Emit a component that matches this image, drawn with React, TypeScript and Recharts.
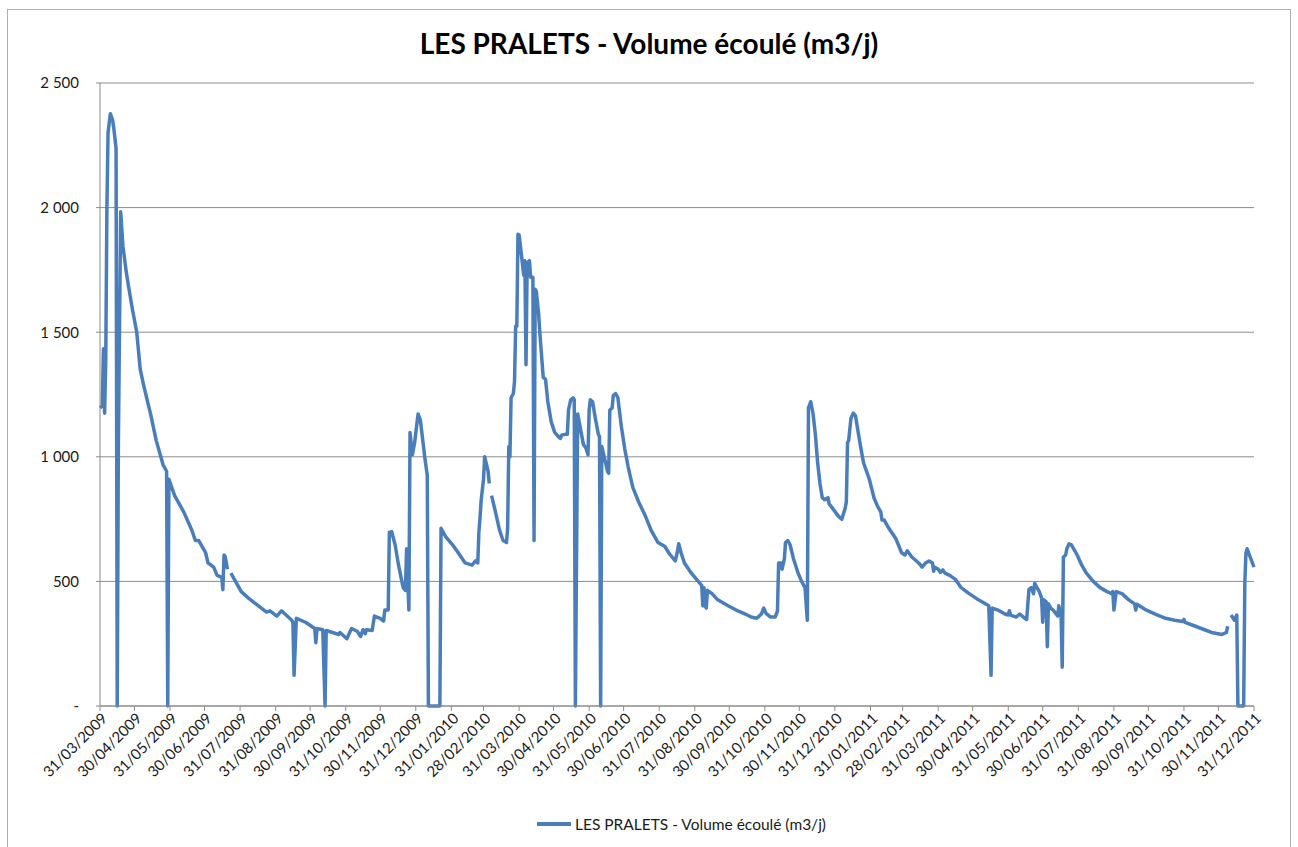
import { CartesianGrid, Line, LineChart, XAxis, YAxis } from 'recharts'

// jours depuis le 31/03/2009
const jours = [
  0, 2, 3, 4, 5, 6, 7, 9, 11, 12,
  14, 15, 16, 18, 20, 23, 25, 28, 32, 35,
  38, 44, 49, 55, 58, 59, 60, 65, 73, 80,
  83, 86, 92, 94, 99, 102, 106, 107, 108, 109,
  111, 112, 114, 118, 123, 129, 138, 145, 148, 154,
  158, 163, 167, 168, 169, 171, 179, 187, 188, 189,
  194, 196, 197, 208, 209, 215, 219, 224, 227, 229,
  231, 232, 237, 239, 244, 247, 248, 251, 252, 254,
  257, 260, 264, 266, 267, 269, 270, 272, 274, 277,
  279, 283, 285, 286, 296, 297, 301, 307, 312, 318,
  324, 327, 329, 330, 331, 332, 334, 335, 338, 339,
  340, 341, 344, 348, 351, 354, 355, 356, 357, 358,
  360, 361, 362, 363, 364, 365, 367, 369, 370, 371,
  372, 374, 375, 377, 378, 379, 380, 382, 383, 386,
  388, 390, 393, 396, 399, 401, 402, 405, 407, 408,
  410, 412, 413, 414, 416, 418, 421, 423, 425, 426,
  427, 429, 431, 434, 435, 436, 437, 440, 442, 443,
  444, 446, 447, 449, 451, 454, 457, 460, 464, 469,
  475, 480, 486, 492, 496, 501, 503, 504, 506, 509,
  515, 521, 524, 525, 526, 527, 528, 529, 533, 538,
  547, 554, 562, 567, 572, 576, 578, 580, 584, 588,
  590, 591, 593, 594, 596, 597, 599, 601, 604, 608,
  611, 614, 616, 617, 619, 621, 623, 625, 627, 629,
  631, 634, 635, 639, 643, 646, 649, 650, 651, 652,
  654, 656, 658, 660, 663, 665, 670, 674, 677, 680,
  681, 683, 687, 693, 696, 698, 701, 703, 707, 713,
  716, 719, 722, 725, 726, 727, 730, 732, 734, 736,
  740, 745, 750, 756, 765, 771, 774, 776, 777, 782,
  788, 791, 792, 793, 798, 801, 804, 807, 809, 811,
  813, 814, 816, 818, 820, 821, 822, 824, 825, 826,
  828, 830, 834, 835, 837, 838, 839, 841, 842, 844,
  846, 851, 855, 859, 865, 871, 877, 881, 882, 883,
  885, 890, 896, 901, 902, 903, 910, 919, 928, 936,
  943, 944, 945, 954, 962, 968, 977, 981, 982, 983,
  985, 988, 990, 991, 996, 997, 998, 999, 1001, 1005,
]

// volume écoulé (m3/j), null = pas de mesure
const volumes = [
  1196, 1205, 1434, 1175, 1385, 1991, 2300, 2377, 2350, 2319,
  2237, 0, 1049, 1983, 1844, 1737, 1680, 1598, 1500, 1352,
  1287, 1172, 1065, 967, 942, 0, 910, 844, 778, 705,
  664, 664, 615, 574, 557, 524, 516, 467, 606, 600,
  549, null, 533, 500, 459, 434, 402, 377, 382, 361,
  382, 361, 344, 336, 123, 352, 336, 311, 254, 311,
  306, 0, 303, 287, 295, 270, 311, 300, 279, 306,
  290, 306, 303, 361, 352, 341, 385, 385, 697, 700,
  647, 565, 475, 464, 631, 385, 1098, 1008, 1057, 1172,
  1147, 992, 926, 0, 0, 713, 680, 647, 615, 574,
  565, 582, 574, 700, 760, 828, 910, 1000, 942, 893,
  null, 844, 787, 705, 664, 656, 713, 1041, 1000, 1237,
  1254, 1303, 1524, 1524, 1893, 1890, 1811, 1729, 1787, 1369,
  1778, 1787, 1721, 1721, 664, 1672, 1664, 1573, 1500, 1319,
  1311, 1221, 1139, 1098, 1082, 1074, 1087, 1090, 1090, 1188,
  1229, 1237, 1229, 0, 1172, 1123, 1049, 1037, 1008, 1188,
  1229, 1221, 1164, 1090, 1082, 0, 1041, 983, 942, 934,
  1188, 1196, 1246, 1254, 1237, 1123, 1032, 959, 877, 820,
  762, 705, 656, 640, 610, 582, 623, 651, 615, 574,
  533, 500, 484, 402, 475, 402, 393, 464, 451, 426,
  402, 385, 369, 357, 352, 369, 393, 372, 357, 357,
  382, 574, 574, 549, 590, 656, 664, 647, 590, 533,
  500, 475, 344, 1196, 1221, 1172, 1090, 975, 893, 836,
  828, 836, 811, 787, 762, 749, 795, 820, 1057, 1065,
  1155, 1175, 1164, 1106, 1024, 975, 910, 836, 803, 778,
  746, 746, 713, 672, 639, 615, 606, 623, 598, 574,
  557, 574, 582, 574, 541, 557, 549, 536, 546, 533,
  524, 508, 475, 454, 426, 410, 402, 123, 393, 385,
  369, 365, 382, 365, 357, 369, 357, 347, 467, 475,
  451, 492, 475, 459, 434, 336, 426, 418, 238, 410,
  393, 385, 361, 402, 361, 156, 598, 606, 631, 651,
  647, 606, 565, 533, 500, 475, 459, 451, 459, 385,
  459, 451, 426, 410, 385, 408, 388, 369, 352, 344,
  339, 348, 336, 320, 306, 295, 287, 295, 320, null,
  365, 344, 365, 0, 0, 492, 615, 631, 606, 557,
]

const dateTicks = [
  '31/03/2009', '30/04/2009', '31/05/2009', '30/06/2009', '31/07/2009',
  '31/08/2009', '30/09/2009', '31/10/2009', '30/11/2009', '31/12/2009',
  '31/01/2010', '28/02/2010', '31/03/2010', '30/04/2010', '31/05/2010',
  '30/06/2010', '31/07/2010', '31/08/2010', '30/09/2010', '31/10/2010',
  '30/11/2010', '31/12/2010', '31/01/2011', '28/02/2011', '31/03/2011',
  '30/04/2011', '31/05/2011', '30/06/2011', '31/07/2011', '31/08/2011',
  '30/09/2011', '31/10/2011', '30/11/2011', '31/12/2011',
]

const valueTicks = [0, 500, 1000, 1500, 2000, 2500]

const SERIES = 'LES PRALETS - Volume écoulé (m3/j)'
const FONT = 'Lato, "Open Sans", sans-serif'

const toDay = (s: string) => {
  const [d, m, y] = s.split('/').map(Number)
  return Math.round((Date.UTC(y, m - 1, d) - Date.UTC(2009, 2, 31)) / 86400000)
}

const tickDays = dateTicks.map(toDay)
const data = jours.map((j, i) => ({ jour: j, volume: volumes[i] }))

const fmtValue = (v: number) =>
  v === 0 ? '-' : String(v).replace(/\B(?=(\d{3})+(?!\d))/g, ' ')

const DateTick = (props: any) => {
  const { x, y, payload } = props
  const label = dateTicks[tickDays.indexOf(payload.value)] ?? ''
  return (
    <text
      x={x + 4}
      y={y + 2}
      transform={`rotate(-45 ${x + 4} ${y + 2})`}
      textAnchor="end"
      dominantBaseline="central"
      fontSize={15}
      fontFamily={FONT}
      fill="#1a1a1a"
    >
      {label}
    </text>
  )
}

export default function App() {
  return (
    <div
      style={{
        position: 'absolute',
        left: 0,
        top: 0,
        width: 1298,
        height: 847,
        overflow: 'hidden',
        background: '#fff',
        fontFamily: FONT,
      }}
    >
      <div
        style={{
          position: 'absolute',
          left: 7,
          top: 9,
          width: 1284,
          height: 860,
          border: '1px solid #b0b0b0',
          boxSizing: 'border-box',
        }}
      />
      <div
        style={{
          position: 'absolute',
          left: 0,
          top: 26,
          width: 1298,
          textAlign: 'center',
          fontWeight: 700,
          fontSize: 28,
          color: '#000',
        }}
      >
        {SERIES}
      </div>
      <div style={{ position: 'absolute', left: 0, top: 0 }}>
        <LineChart
          width={1298}
          height={847}
          data={data}
          margin={{ top: 83, right: 44, bottom: 41, left: 20 }}
        >
          <CartesianGrid vertical={false} stroke="#8c8c8c" />
          <XAxis
            dataKey="jour"
            type="number"
            domain={[0, 1005]}
            ticks={tickDays}
            interval={0}
            height={100}
            stroke="#8c8c8c"
            tickSize={5}
            tick={<DateTick />}
          />
          <YAxis
            type="number"
            domain={[0, 2500]}
            ticks={valueTicks}
            width={80}
            stroke="#8c8c8c"
            tickSize={4}
            tickMargin={17}
            tickFormatter={fmtValue}
            tick={{ fontSize: 15, fontFamily: FONT, fill: '#1a1a1a' }}
          />
          <Line
            dataKey="volume"
            type="linear"
            stroke="#4a7ebb"
            strokeWidth={3.5}
            strokeLinejoin="round"
            dot={false}
            activeDot={false}
            connectNulls={false}
            isAnimationActive={false}
          />
        </LineChart>
      </div>
      <div
        style={{
          position: 'absolute',
          left: 537,
          top: 815,
          display: 'flex',
          alignItems: 'center',
          fontSize: 15.5,
          color: '#1a1a1a',
        }}
      >
        <span
          style={{
            display: 'inline-block',
            width: 34,
            height: 3.5,
            background: '#4a7ebb',
            marginRight: 4,
          }}
        />
        {SERIES}
      </div>
    </div>
  )
}
